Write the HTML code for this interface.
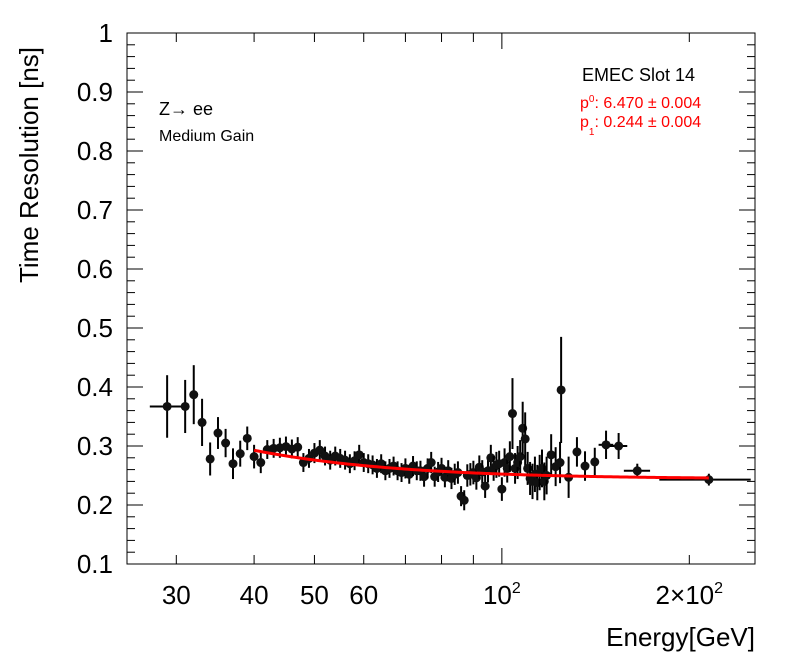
<!DOCTYPE html>
<html><head><meta charset="utf-8"><style>
html,body{margin:0;padding:0;background:#fff;}
svg{display:block;font-family:"Liberation Sans",Arial,sans-serif;}
</style></head><body>
<svg id="chart" width="796" height="672" viewBox="0 0 796 672" xmlns="http://www.w3.org/2000/svg">
<rect x="0" y="0" width="796" height="672" fill="#fff"/>
<g id="marks"></g>
<g id="axes"></g>
<rect x="127" y="33" width="628" height="531" fill="none" stroke="#000" stroke-width="1"/>
<text x="38" y="165" font-size="26" text-anchor="middle" transform="rotate(-90 38 165)">Time Resolution [ns]</text>
<text x="755" y="646" font-size="26" text-anchor="end">Energy[GeV]</text>
<text x="159" y="115" font-size="18">Z→ ee</text>
<text x="159" y="141" font-size="16">Medium Gain</text>
<text x="582" y="81" font-size="18">EMEC Slot 14</text>
<text x="580" y="108" font-size="16" fill="#f00">p<tspan font-size="10" dy="-6">0</tspan><tspan dy="6">: 6.470 ± 0.004</tspan></text>
<text x="580" y="127" font-size="16" fill="#f00">p<tspan font-size="10" dy="8">1</tspan><tspan dy="-8">: 0.244 ± 0.004</tspan></text>
</svg>
<script>
const energies=[29,31,32,33,34,35,36,37,38,39,40,41,42,43,44,45,46,47,48,49,50,51,52,53,54,55,56,57,58,59,60,61,62,63,64,65,66,67,68,69,70,71,72,73,74,75,76,77,78,79,80,81,82,83,84,85,86,87,88,89,90,91,92,93,94,95,96,97,98,99,100,101,102,103,104,105,106,107,108,109,110,111,112,113,114,115,116,117,118,120,122,124,124.5,128,132,136,141,147,154,165,215];
const resolution=[0.367,0.367,0.387,0.340,0.278,0.322,0.305,0.270,0.287,0.313,0.282,0.272,0.294,0.296,0.297,0.299,0.295,0.298,0.272,0.279,0.288,0.293,0.283,0.276,0.283,0.279,0.276,0.270,0.275,0.285,0.272,0.270,0.268,0.262,0.270,0.258,0.262,0.266,0.258,0.255,0.262,0.252,0.266,0.258,0.258,0.248,0.262,0.272,0.248,0.256,0.262,0.247,0.258,0.245,0.252,0.255,0.215,0.208,0.250,0.252,0.255,0.246,0.264,0.256,0.232,0.258,0.280,0.262,0.268,0.270,0.227,0.272,0.262,0.282,0.355,0.262,0.272,0.282,0.330,0.312,0.262,0.245,0.240,0.252,0.238,0.255,0.262,0.240,0.250,0.285,0.265,0.272,0.395,0.247,0.290,0.266,0.273,0.302,0.300,0.258,0.243];
const yErrors=[0.053,0.045,0.05,0.04,0.028,0.027,0.024,0.026,0.022,0.02,0.02,0.018,0.016,0.016,0.017,0.017,0.016,0.017,0.016,0.016,0.017,0.017,0.016,0.016,0.016,0.016,0.016,0.016,0.016,0.017,0.016,0.016,0.016,0.016,0.016,0.016,0.016,0.016,0.016,0.016,0.017,0.016,0.017,0.016,0.017,0.017,0.017,0.018,0.017,0.017,0.018,0.017,0.018,0.018,0.018,0.019,0.017,0.017,0.019,0.019,0.02,0.02,0.02,0.02,0.02,0.02,0.022,0.021,0.022,0.022,0.02,0.024,0.024,0.026,0.06,0.026,0.028,0.028,0.045,0.045,0.028,0.028,0.03,0.03,0.03,0.03,0.032,0.032,0.032,0.035,0.033,0.035,0.09,0.035,0.025,0.025,0.024,0.024,0.022,0.012,0.01];
const xErrors=[1.8,0.5,0.5,0.5,0.5,0.5,0.5,0.5,0.5,0.5,0.5,0.5,0.5,0.5,0.5,0.5,0.5,0.5,0.5,0.5,0.5,0.5,0.5,0.5,0.5,0.5,0.5,0.5,0.5,0.5,0.5,0.5,0.5,0.5,0.5,0.5,0.5,0.5,0.5,0.5,0.5,0.5,0.5,0.5,0.5,0.5,0.5,0.5,0.5,0.5,0.5,0.5,0.5,0.5,0.5,0.5,0.5,0.5,0.5,0.5,0.5,0.5,0.5,0.5,0.5,0.5,0.5,0.5,0.5,0.5,0.5,0.5,0.5,0.5,0.5,0.5,0.5,0.5,0.5,0.5,0.5,0.5,0.5,0.5,0.5,0.5,0.5,0.5,0.5,1,1,1,1,1,2,2,2,4,5,8,36];
const fitParams=[6.470,0.244];
const fitRange=[40,215];
const yTicks=[0.1,0.2,0.3,0.4,0.5,0.6,0.7,0.8,0.9,1];
const yTickLabels=["0.1","0.2","0.3","0.4","0.5","0.6","0.7","0.8","0.9","1"];
const xTickValues=[30,40,50,60,70,80,90,100,200];
const xLabelValues=[30,40,50,60,100,200];
const xLabels=["30","40","50","60","10^2","2×10^2"];

const NS="http://www.w3.org/2000/svg";
const X0=127,X1=755,Y0=564,Y1=33,XMIN=25,XMAX=255,YMIN=0.1,YMAX=1;
function sx(e){return X0+(Math.log10(e)-Math.log10(XMIN))/(Math.log10(XMAX)-Math.log10(XMIN))*(X1-X0);}
function sy(v){return Y0-(v-YMIN)/(YMAX-YMIN)*(Y0-Y1);}
function mk(tag,attrs,parent){const el=document.createElementNS(NS,tag);for(const k in attrs)el.setAttribute(k,attrs[k]);parent.appendChild(el);return el;}
const axes=document.getElementById('axes');
const marks=document.getElementById('marks');

for(let i=0;i<yTicks.length;i++){
  const y=sy(yTicks[i]);
  let t=mk('line',{x1:X0,x2:X0+16,y1:y,y2:y,stroke:'#000'},axes);
  
  
  t=mk('line',{x1:X1,x2:X1-16,y1:y,y2:y,stroke:'#000'},axes);
  
  
  const lb=mk('text',{x:113,y:y+9,'font-size':26,'text-anchor':'end'},axes);
  lb.textContent=yTickLabels[i];
  
  
  if(i<yTicks.length-1){
    for(let k=1;k<5;k++){
      const ym=sy(yTicks[i]+k*(yTicks[i+1]-yTicks[i])/5);
      let m=mk('line',{x1:X0,x2:X0+8,y1:ym,y2:ym,stroke:'#000'},axes);
      
      
      m=mk('line',{x1:X1,x2:X1-8,y1:ym,y2:ym,stroke:'#000'},axes);
      
      
    }
  }
}
for(const v of xTickValues){
  const x=sx(v);const len=(v===100)?16:9;
  let t=mk('line',{x1:x,x2:x,y1:Y0,y2:Y0-len,stroke:'#000'},axes);
  
  
  t=mk('line',{x1:x,x2:x,y1:Y1,y2:Y1+len,stroke:'#000'},axes);
  
  
}
for(let i=0;i<xLabelValues.length;i++){
  const x=sx(xLabelValues[i]);
  const lb=mk('text',{x:x,y:604,'font-size':26,'text-anchor':'middle'},axes);
  const s=xLabels[i];
  if(s.indexOf('^')>=0){
    const parts=s.split('^');
    lb.textContent=parts[0];
    const sp=mk('tspan',{'font-size':16,dy:-11},lb);
    sp.textContent=parts[1];
  } else lb.textContent=s;
  
  
}
let d='';
for(let i=0;i<=200;i++){
  const e=fitRange[0]*Math.pow(fitRange[1]/fitRange[0],i/200);
  const v=Math.sqrt(Math.pow(fitParams[0]/e,2)+fitParams[1]*fitParams[1]);
  d+=(i?'L':'M')+sx(e).toFixed(2)+','+sy(v).toFixed(2);
}
for(let i=0;i<energies.length;i++){
  const x=sx(energies[i]),y=sy(resolution[i]);
  const g=mk('g',{},marks);
  
  
  mk('line',{x1:x,x2:x,y1:sy(resolution[i]+yErrors[i]),y2:sy(resolution[i]-yErrors[i]),stroke:'#000','stroke-width':2},g);
  mk('line',{x1:sx(energies[i]-xErrors[i]),x2:Math.min(X1,sx(energies[i]+xErrors[i])),y1:y,y2:y,stroke:'#000','stroke-width':2},g);
  mk('circle',{cx:x,cy:y,r:4.5,fill:'#111'},g);
}
const fit=mk('path',{d:d,fill:'none',stroke:'#f00','stroke-width':3},marks);


</script>
</body></html>
